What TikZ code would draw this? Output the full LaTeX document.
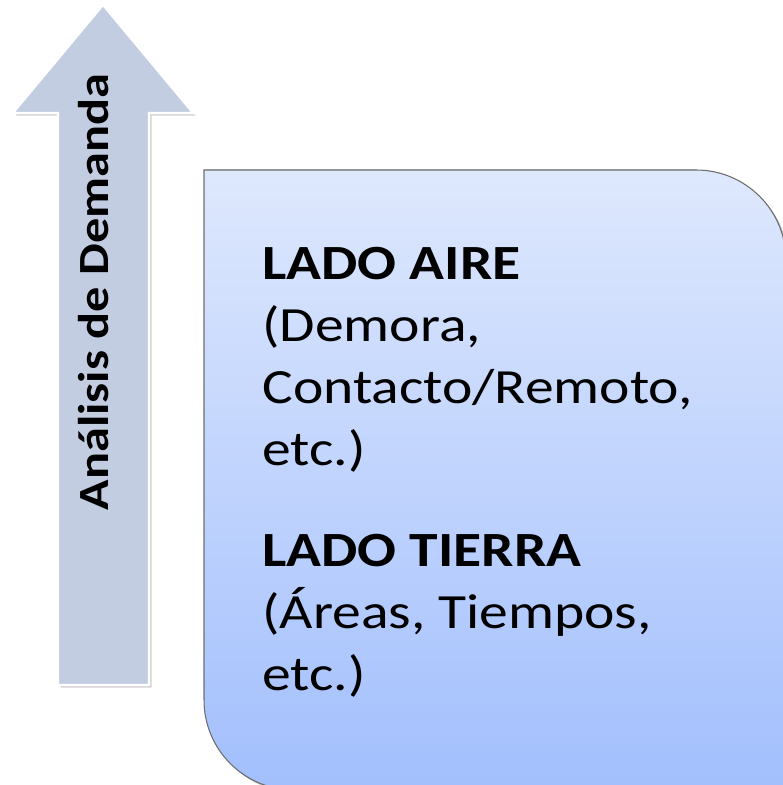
\documentclass[tikz,border=0pt]{standalone}
\usepackage{fontspec}
\setmainfont{Carlito}[FakeStretch=1.17]
\usetikzlibrary{shadows}

\definecolor{arrowfill}{RGB}{195,205,225}
\definecolor{boxtop}{RGB}{222,232,253}
\definecolor{boxbottom}{RGB}{162,191,253}
\definecolor{boxline}{RGB}{110,110,110}

\tikzset{
  arrowshape/.style={fill=arrowfill, draw=white, line width=1.2pt,
    drop shadow={opacity=0.35, shadow xshift=1.5pt, shadow yshift=-1.5pt}},
  boxshape/.style={top color=boxtop, bottom color=boxbottom, draw=boxline, line width=0.6pt,
    drop shadow={opacity=0.45, shadow xshift=1.5pt, shadow yshift=-1.5pt}},
  boxtext/.style={anchor=base west, inner sep=0pt, align=left,
    font=\fontsize{28}{35.3}\selectfont}
}

\begin{document}
\begin{tikzpicture}[x=0.02cm,y=0.02cm]
    \useasboundingbox (0,0) rectangle (783,785);

    % arrow
    \filldraw[arrowshape] (58,100) -- (58,672) -- (13,672) -- (103,780) -- (193,672) -- (149,672) -- (149,100) -- cycle;
    \node[rotate=90, anchor=base, inner sep=0pt, font=\fontsize{24.5}{29}\selectfont\bfseries] (demanda) at (108,493) {Análisis de Demanda};

    % box
    \filldraw[boxshape] (204,615) -- (696,615) arc[start angle=90, end angle=0, radius=1.8cm]
        -- (786,-5) -- (294,-5) arc[start angle=270, end angle=180, radius=1.8cm] -- cycle;

    \node[boxtext] (aire) at (262,319) {\textbf{LADO AIRE}\\(Demora,\\Contacto/Remoto,\\etc.)};
    \node[boxtext] (tierra) at (262,94) {\textbf{LADO TIERRA}\\(Áreas, Tiempos,\\etc.)};
\end{tikzpicture}
\end{document}
